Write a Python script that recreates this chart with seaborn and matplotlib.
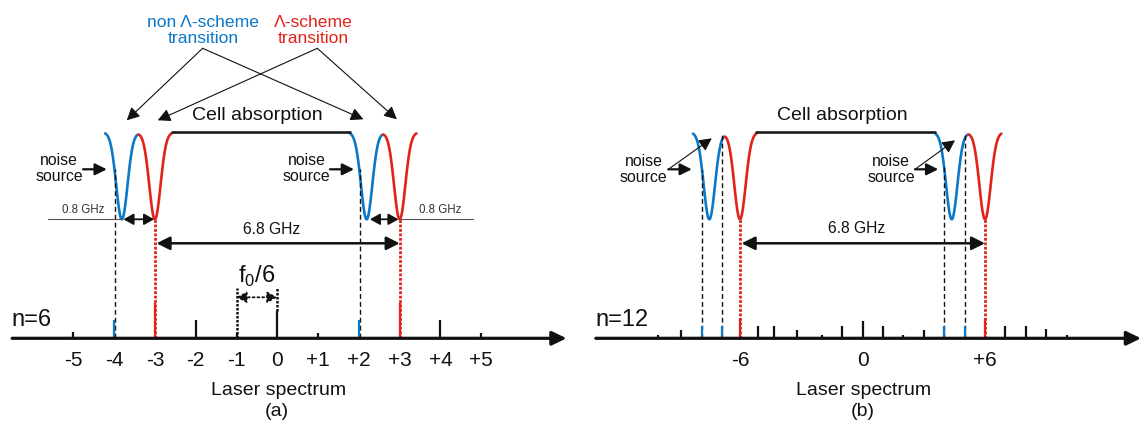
import numpy as np
import pandas as pd
import seaborn as sns
from matplotlib import pyplot as plt

sns.set_theme(style='white')
plt.rcParams['font.family'] = ['Liberation Sans', 'DejaVu Sans']
plt.rcParams['mathtext.fontset'] = 'custom'
plt.rcParams['mathtext.rm'] = 'Liberation Sans'

BLUE = '#0b78c8'
RED = '#e2231a'
INK = '#111111'

#%% data - panel (a), n=6
modes_a = [-5, -4, -3, -2, -1, 0, 1, 2, 3, 4, 5]
amp_a = [6, 18, 35, 18, 5, 27, 5, 18, 35, 18, 5]
kind_a = ['k', 'blue', 'red', 'k', 'k', 'k', 'k', 'blue', 'red', 'k', 'k']
ticks_a = [-5, -4, -3, -2, -1, 0, 1, 2, 3, 4, 5]
ticklabels_a = ['-5', '-4', '-3', '-2', '-1', '0', '+1', '+2', '+3', '+4', '+5']
red_dips_a = [-3, 3]
blue_dips_a = [-3.81, 2.19]
guides_a = [-3.98, 2.03]
guide_top_a = [169, 169]

#%% data - panel (b), n=12
modes_b = [-10, -8.89, -7.87, -6.87, -6, -5.14, -4.31, -3.22, -2, -1, 0,
           1, 2, 3, 3.99, 5.02, 6, 7, 8, 9, 10]
amp_b = [3, 8, 12, 12, 20, 12, 12, 8, 3, 12, 17,
         12, 3, 8, 12, 12, 20, 12, 12, 9, 3]
kind_b = ['k', 'k', 'blue', 'blue', 'red', 'k', 'k', 'k', 'k', 'k', 'k',
          'k', 'k', 'k', 'blue', 'blue', 'red', 'k', 'k', 'k', 'k']
ticks_b = [-6, 0, 6]
ticklabels_b = ['-6', '0', '+6']
red_dips_b = [-6, 6]
blue_dips_b = [-7.5, 4.37]
guides_b = [-7.87, -6.87, 3.99, 5.02]
guide_top_b = [168, 205, 171, 206]

dip_top = 206
dip_bottom = 119

colors = {'k': INK, 'blue': BLUE, 'red': RED}


def absorption(red, blue, sigma, half):
    rows = []
    def prof(x, cb, cr):
        g = np.exp(-0.5 * ((x - cb) / sigma) ** 2) + np.exp(-0.5 * ((x - cr) / sigma) ** 2)
        return dip_top - (dip_top - dip_bottom) * g
    seg = 0
    for cb, cr in zip(blue, red):
        mid = (cb + cr) / 2
        for kind, xs in [('blue', np.linspace(cb - half, mid, 80)),
                         ('red', np.linspace(mid, cr + half, 80))]:
            for x in xs:
                rows.append((x, prof(x, cb, cr), kind, seg))
            seg += 1
    for x in [red[0] + half, blue[1] - half]:
        rows.append((x, dip_top, 'flat', seg))
    return pd.DataFrame(rows, columns=['x', 'y', 'kind', 'seg'])


def arrow(ax, start, end, style='-|>', lw=0.8, ms=14, ls='-', color=INK):
    ax.annotate('', xy=end, xytext=start,
                arrowprops=dict(arrowstyle=style, color=color, lw=lw, mutation_scale=ms,
                                shrinkA=0, shrinkB=0, linestyle=ls))


def panel(ax, modes, amp, kind, red, blue, sigma, half, guides, guide_top,
          ticks, ticklabels, xlim, left, right, tag, n_label, n_x):
    ax.set_xlim(*xlim)
    ax.set_ylim(-83.7, 338.3)
    ax.axis('off')
    unit = (xlim[1] - xlim[0]) / 14

    df = absorption(red, blue, sigma, half)
    sns.lineplot(data=df, x='x', y='y', hue='kind', units='seg', estimator=None, sort=False,
                 palette={'blue': BLUE, 'red': RED, 'flat': '#1a1a1a'}, lw=1.9,
                 legend=False, ax=ax)

    # guides first, comb lines on top of them
    ax.vlines(guides, 0, guide_top, colors=INK, lw=1.0, linestyles=(0, (3.5, 2.2)))
    ax.vlines(red, 0, dip_bottom, colors=RED, lw=2.0, linestyles=(0, (1.0, 0.6)))
    ax.vlines(modes, 0, amp, colors=[colors[c] for c in kind], lw=1.6)

    # frequency axis
    arrow(ax, (left, 0), (right, 0), lw=2.3, ms=14,
          style='-|>,head_length=0.62,head_width=0.3')
    for t, lab in zip(ticks, ticklabels):
        ax.text(t, -22, lab, ha='center', va='center', fontsize=15, color=INK)
    ax.text(n_x, 18, n_label, ha='left', va='center', fontsize=17, color=INK)
    mid = ticks[len(ticks) // 2]
    ax.text(mid + 0.03 * unit, -52, 'Laser spectrum',
            ha='center', va='center', fontsize=14, color=INK)
    ax.text(mid, -73.5, tag, ha='center', va='center', fontsize=14, color=INK)

    # 6.8 GHz span between the Lambda transitions
    arrow(ax, (red[0] + 0.04 * unit, 95), (red[1], 95),
          style='<|-|>,head_length=0.5,head_width=0.25', lw=1.8, ms=16)


fig = plt.figure(figsize=(11.42, 4.22), dpi=100)
ax_a = fig.add_axes([0, 0, 0.5, 1])
ax_b = fig.add_axes([0.5, 0, 0.5, 1])

#%% panel (a)
panel(ax_a, modes_a, amp_a, kind_a, red_dips_a, blue_dips_a, 0.1385, 0.41,
      guides_a, guide_top_a, ticks_a, ticklabels_a, (-6.797, 7.199), -6.50, 7.09,
      '(a)', 'n=6', -6.51)

ax_a.text(-0.13, 109, '6.8 GHz', ha='center', va='center', fontsize=11.3, color=INK)
ax_a.text(-0.49, 223, 'Cell absorption', ha='center', va='center', fontsize=14, color=INK)
ax_a.text(-1.82, 308, 'non \u039b-scheme\ntransition', ha='center', va='center',
          fontsize=12.6, color=BLUE, linespacing=1.12)
ax_a.text(0.88, 308, '\u039b-scheme\ntransition', ha='center', va='center',
          fontsize=12.6, color=RED, linespacing=1.12)
for end in [(-3.69, 218), (2.11, 219)]:
    arrow(ax_a, (-1.83, 290), end, style='-|>,head_length=0.55,head_width=0.28')
for end in [(-2.93, 218), (2.93, 219)]:
    arrow(ax_a, (0.98, 290), end, style='-|>,head_length=0.55,head_width=0.28')

for tx, a0, a1 in [(-5.35, -4.76, -4.18), (0.72, 1.29, 1.88)]:
    ax_a.text(tx, 170, 'noise\nsource', ha='center', va='center', fontsize=11.4,
              color=INK, linespacing=1.05)
    arrow(ax_a, (a0, 169), (a1, 169), lw=1.6, style='-|>,head_length=0.5,head_width=0.25')

for tx, l0, l1, d0, d1 in [(-4.77, -5.61, -3.81, -3.77, -3.02),
                           (3.99, 3.0, 4.79, 2.27, 2.97)]:
    ax_a.text(tx, 128, '0.8 GHz', ha='center', va='center', fontsize=8.3, color='#333333')
    ax_a.plot([l0, l1], [119, 119], color='#555555', lw=0.8)
    arrow(ax_a, (d0, 119), (d1, 119), lw=1.3, ms=12,
          style='<|-|>,head_length=0.5,head_width=0.28')

# f0/6 mode spacing
ax_a.vlines([-1, 0], [0, 27], [50, 50], colors=INK, lw=1.8, linestyles=(0, (1.0, 0.6)))
arrow(ax_a, (-1, 41), (0, 41), lw=1.3, ms=12, ls=':',
      style='<|-|>,head_length=0.5,head_width=0.28')
ax_a.text(-0.5, 62, r'f$_{\mathregular{0}}$/6', ha='center', va='center', fontsize=17,
          color=INK)

#%% panel (b)
panel(ax_b, modes_b, amp_b, kind_b, red_dips_b, blue_dips_b, 0.277, 0.8,
      guides_b, guide_top_b, ticks_b, ticklabels_b, (-14.275, 13.687), -13.06, 13.64,
      '(b)', 'n=12', -13.1)

ax_b.text(-0.28, 110, '6.8 GHz', ha='center', va='center', fontsize=11.3, color=INK)
ax_b.text(-1.0, 223, 'Cell absorption', ha='center', va='center', fontsize=14, color=INK)
for tx, a0, a1, d1 in [(-10.71, -9.51, -8.36, (-7.38, 200)),
                       (1.41, 2.57, 3.71, (4.53, 198))]:
    ax_b.text(tx, 169, 'noise\nsource', ha='center', va='center', fontsize=11.4,
              color=INK, linespacing=1.05)
    arrow(ax_b, (a0, 169), (a1, 169), lw=1.6, style='-|>,head_length=0.5,head_width=0.25')
    arrow(ax_b, (a0, 169), d1, lw=0.8, style='-|>,head_length=0.55,head_width=0.28')

fig.savefig('out.png', dpi=100)
